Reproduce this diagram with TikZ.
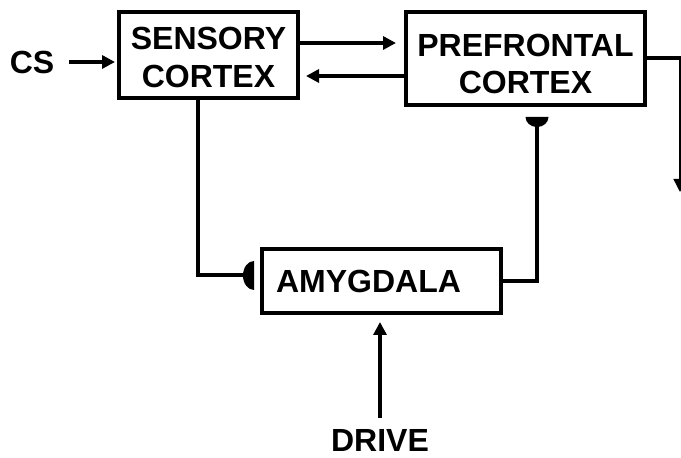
\documentclass[tikz,border=0pt]{standalone}
\usepackage{fontspec}
\setmainfont{Liberation Sans}
\usetikzlibrary{arrows.meta}
\begin{document}
\begin{tikzpicture}[x=1pt,y=1pt,
  box/.style={draw, line width=4pt, align=center, inner sep=0pt, font=\fontsize{32}{37.5}\selectfont\bfseries},
  lbl/.style={inner sep=0pt, font=\fontsize{32}{37.5}\selectfont\bfseries},
  conn/.style={line width=4pt},
  arr/.style={conn, -{Triangle[length=13pt,width=13pt]}},
  thinarr/.style={line width=1.3pt, -{Triangle[length=13pt,width=13pt]}},
  inh/.style={fill=black}]
\useasboundingbox (0,0) rectangle (681,458);
\node[box, minimum width=179pt, minimum height=86pt] (sens) at (208.5,403) {\rule{0pt}{27pt}SENSORY\\CORTEX};
\node[box, minimum width=239pt, minimum height=93pt] (pref) at (525.5,399.5) {\rule{0pt}{33pt}PREFRONTAL\\CORTEX};
\node[box, minimum width=239pt, minimum height=64pt] (amy) at (381.5,177) {AMYGDALA\hspace*{26pt}};
\node[lbl] (cs) at (32,396) {CS};
\node[lbl] (drive) at (380,18) {DRIVE};
% CS -> sensory
\draw[arr, shorten <=15pt, shorten >=2pt] (cs.east) -- (cs.east -| sens.west);
% sensory <-> prefrontal
\path ([yshift=12pt]sens.east) coordinate (f1);
\path ([yshift=-21pt]pref.west |- sens.east) coordinate (b1);
\draw[arr, shorten >=8pt] (f1) -- (f1 -| pref.west);
\draw[arr, shorten >=6pt] (b1) -- (b1 -| sens.east);
% prefrontal output
\coordinate (rc) at (683,399.5);
\coordinate (rtop) at (680,399.5);
\coordinate (rdown) at (680,266);
\draw[conn] (pref.east) -- (rc);
\draw[thinarr] (rtop) -- (rdown);
% sensory -| amygdala (inhibitory end)
\coordinate (inhA) at (254,182.5);
\draw[conn] ([xshift=-10.5pt]sens.south) |- (inhA);
\fill[inh] (inhA) ++(0,14.5) arc[start angle=90,end angle=270,x radius=11,y radius=14.5] -- cycle;
% amygdala -| prefrontal (inhibitory end)
\coordinate (inhP) at (537,341);
\draw[conn] (amy.east) -| (inhP);
\fill[inh] (inhP) ++(-11.5,0) arc[start angle=180,end angle=360,x radius=11.5,y radius=10] -- cycle;
% drive -> amygdala
\draw[arr, shorten <=11pt, shorten >=7pt] (drive.north) -- (drive.north |- amy.south);
\end{tikzpicture}
\end{document}
